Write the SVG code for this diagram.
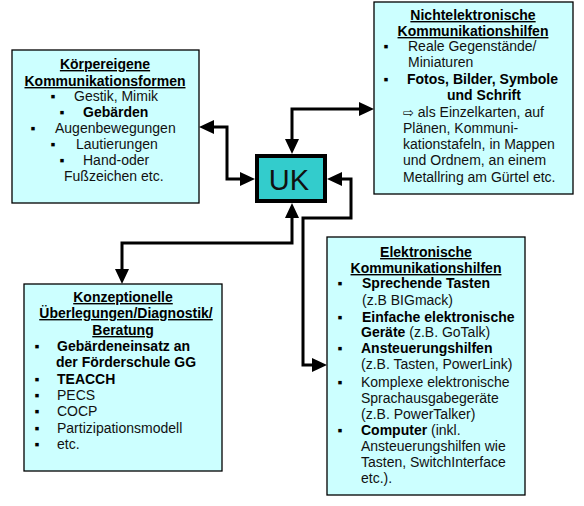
<svg xmlns="http://www.w3.org/2000/svg" width="584" height="506" viewBox="0 0 584 506">
<style>
.box{fill:#CCFFFF;stroke:#000;stroke-width:1.3}
text{font-family:"Liberation Sans",Arial,"DejaVu Sans",sans-serif;font-size:14px;fill:#111}
.b{font-weight:bold;fill:#000}
.u{font-weight:bold;text-decoration:underline;fill:#000}
.m{text-anchor:middle}
.bl{font-family:"Liberation Sans","DejaVu Sans",sans-serif;text-anchor:middle;fill:#000}
.ar{font-family:"DejaVu Sans",sans-serif;font-size:13px}
.c{fill:none;stroke:#000;stroke-width:3;marker-start:url(#ah);marker-end:url(#ah)}
</style>
<defs>
<marker id="ah" markerUnits="userSpaceOnUse" markerWidth="16" markerHeight="14" refX="0" refY="7" orient="auto-start-reverse">
<path d="M0,0 L15,7 L0,14 z" fill="#000"/>
</marker>
</defs>
<rect width="584" height="506" fill="#fff"/>

<g id="connectors">
<path class="c" d="M214,127 H227 V179 H240"/>
<path class="c" d="M292,139 V109 H359"/>
<path class="c" d="M292,218 V243 H122 V269"/>
<path class="c" d="M342,179 H351 V218 H303 V365 H312"/>
</g>

<g id="uk">
<rect x="257" y="156" width="68" height="45" fill="#33CCCC" stroke="#000" stroke-width="4"/>
<text x="289" y="190" class="m" style="font-size:29px;fill:#111">UK</text>
</g>

<g id="koerpereigene">
<rect class="box" x="12" y="50" width="187" height="153"/>
<text x="105" y="69" class="u m">Körpereigene</text>
<text x="105" y="86" class="u m">Kommunikationsformen</text>
<text x="53" y="101" class="bl">▪</text><text x="74" y="101">Gestik, Mimik</text>
<text x="62" y="117" class="bl">▪</text><text x="83" y="117" class="b">Gebärden</text>
<text x="33" y="133" class="bl">▪</text><text x="55" y="133">Augenbewegungen</text>
<text x="53" y="149" class="bl">▪</text><text x="76" y="149">Lautierungen</text>
<text x="62" y="165" class="bl">▪</text><text x="83" y="165">Hand-oder</text>
<text x="64" y="181">Fußzeichen etc.</text>
</g>

<g id="nichtelektronisch">
<rect class="box" x="374" y="2" width="199" height="192"/>
<text x="473" y="20" class="u m">Nichtelektronische</text>
<text x="473" y="36" class="u m">Kommunikationshilfen</text>
<text x="386" y="51" class="bl">▪</text><text x="408" y="51">Reale Gegenstände/</text>
<text x="408" y="67">Miniaturen</text>
<text x="386" y="84" class="bl">▪</text><text x="407" y="84" class="b">Fotos, Bilder, Symbole</text>
<text x="447" y="100" class="b">und Schrift</text>
<text x="403" y="117"><tspan class="ar">⇨</tspan> als Einzelkarten,  auf</text>
<text x="403" y="133">Plänen, Kommuni-</text>
<text x="403" y="149">kationstafeln, in Mappen</text>
<text x="403" y="165">und Ordnem, an einem</text>
<text x="403" y="182">Metallring am Gürtel etc.</text>
</g>

<g id="konzeptionell">
<rect class="box" x="24" y="284" width="198" height="187"/>
<text x="123" y="302" class="u m">Konzeptionelle</text>
<text x="126" y="318" class="u m">Überlegungen/Diagnostik/</text>
<text x="123" y="335" class="u m">Beratung</text>
<text x="37" y="351" class="bl">▪</text><text x="57" y="351" class="b">Gebärdeneinsatz an</text>
<text x="56" y="367" class="b">der Förderschule GG</text>
<text x="37" y="384" class="bl">▪</text><text x="57" y="384" class="b">TEACCH</text>
<text x="37" y="400" class="bl">▪</text><text x="57" y="400">PECS</text>
<text x="37" y="416" class="bl">▪</text><text x="57" y="416">COCP</text>
<text x="37" y="433" class="bl">▪</text><text x="57" y="433">Partizipationsmodell</text>
<text x="37" y="449" class="bl">▪</text><text x="57" y="449">etc.</text>
</g>

<g id="elektronisch">
<rect class="box" x="327" y="237" width="198" height="258"/>
<text x="426" y="257" class="u m">Elektronische</text>
<text x="426" y="273" class="u m">Kommunikationshilfen</text>
<text x="340" y="288" class="bl">▪</text><text x="362" y="288" class="b">Sprechende Tasten</text>
<text x="362" y="305">(z.B BIGmack)</text>
<text x="340" y="322" class="bl">▪</text><text x="362" y="322" class="b">Einfache elektronische</text>
<text x="361" y="337"><tspan class="b">Geräte</tspan> (z.B. GoTalk)</text>
<text x="340" y="353" class="bl">▪</text><text x="361" y="353" class="b">Ansteuerungshilfen</text>
<text x="361" y="369">(z.B. Tasten, PowerLink)</text>
<text x="340" y="387" class="bl">▪</text><text x="361" y="387">Komplexe elektronische</text>
<text x="361" y="403">Sprachausgabegeräte</text>
<text x="361" y="419">(z.B. PowerTalker)</text>
<text x="340" y="435" class="bl">▪</text><text x="361" y="435"><tspan class="b">Computer</tspan> (inkl.</text>
<text x="361" y="451">Ansteuerungshilfen wie</text>
<text x="361" y="467">Tasten, SwitchInterface</text>
<text x="361" y="483">etc.).</text>
</g>
</svg>
